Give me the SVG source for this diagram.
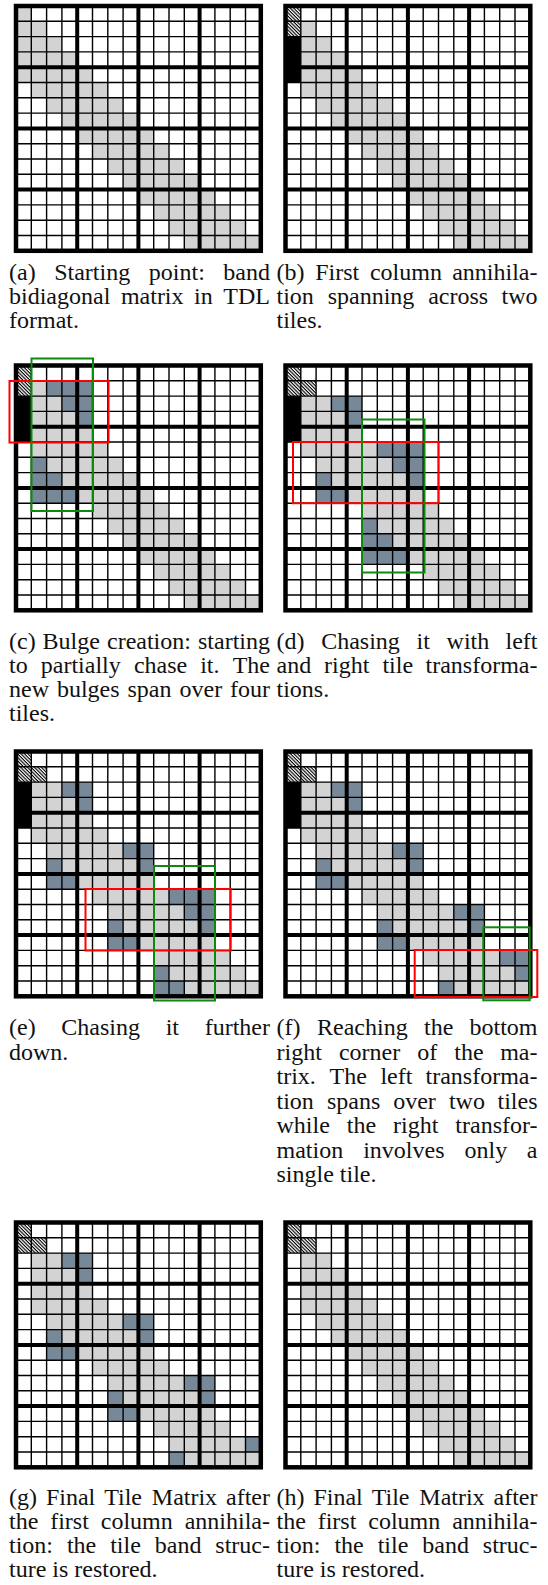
<svg xmlns="http://www.w3.org/2000/svg" width="548" height="1585" viewBox="0 0 548 1585">
<style>
.g{fill:#d3d3d3}.d{fill:#778899}.k{fill:#000}.w{fill:#fff}.h{fill:url(#hatch)}
.thin{stroke:#000;stroke-width:1.4;fill:none}
.thick{stroke:#000;stroke-width:4;fill:none}
.border{stroke:#000;stroke-width:4.5;fill:none}
.red{fill:none;stroke:#ff0000;stroke-width:2}
.grn{fill:none;stroke:#0b8a0b;stroke-width:2}
.cap{font-family:"Liberation Serif","Times New Roman",serif;font-size:24px;fill:#111}
</style>
<defs>
<pattern id="hatch" patternUnits="userSpaceOnUse" width="0.16" height="0.16" patternTransform="rotate(45)"><rect width="0.16" height="0.16" fill="#fff"/><rect width="0.16" height="0.075" fill="#000"/></pattern>
<path id="band" d="M0 0H1V1H2V2H3V3H4V4H5V5H6V6H7V7H8V8H9V9H10V10H11V11H12V12H13V13H14V14H15V15H16V16H11V15H10V14H9V13H8V12H7V11H6V10H5V9H4V8H3V7H2V6H1V5H0Z"/>
<g id="grid">
<path class="thin" d="M15.3 0V244.8M30.6 0V244.8M45.9 0V244.8M76.5 0V244.8M91.8 0V244.8M107.1 0V244.8M137.7 0V244.8M153 0V244.8M168.3 0V244.8M198.9 0V244.8M214.2 0V244.8M229.5 0V244.8M0 15.3H244.8M0 30.6H244.8M0 45.9H244.8M0 76.5H244.8M0 91.8H244.8M0 107.1H244.8M0 137.7H244.8M0 153H244.8M0 168.3H244.8M0 198.9H244.8M0 214.2H244.8M0 229.5H244.8"/>
<path class="thick" d="M61.2 0V244.8M122.4 0V244.8M183.6 0V244.8M0 61.2H244.8M0 122.4H244.8M0 183.6H244.8"/>
<rect class="border" width="244.8" height="244.8"/>
</g>
</defs>
<rect width="548" height="1585" fill="#fff"/>

<g id="matrix-a" transform="translate(16 6)">
<g transform="scale(15.3)"><use href="#band" class="g"/></g>
<use href="#grid"/>
</g>

<g id="matrix-b" transform="translate(285.5 6)">
<g transform="scale(15.3)"><use href="#band" class="g"/><path class="h" d="M0 0h1v2h-1z"/><path class="k" d="M0 2h1v3h-1z"/></g>
<use href="#grid"/>
</g>

<g id="matrix-c" transform="translate(16 365.5)">
<g transform="scale(15.3)"><use href="#band" class="g"/><path class="h" d="M0 0h1v2h-1z"/><path class="k" d="M0 2h1v3h-1z"/>
<path class="d" d="M2 1h3v1h-3zM3 2h2v1h-2zM4 3h1v1h-1zM1 6h1v1h-1zM1 7h2v1h-2zM1 8h3v1h-3z"/></g>
<use href="#grid"/>
</g>

<g id="matrix-d" transform="translate(285.5 365.5)">
<g transform="scale(15.3)"><use href="#band" class="g"/><path class="h" d="M0 0h1v2h-1zM1 1h1v1h-1z"/><path class="k" d="M0 2h1v3h-1z"/>
<path class="d" d="M3 2h2v1h-2zM4 3h1v1h-1zM6 5h3v1h-3zM7 6h2v1h-2zM8 7h1v1h-1zM2 7h1v1h-1zM2 8h2v1h-2zM5 10h1v1h-1zM5 11h2v1h-2zM5 12h3v1h-3z"/></g>
<use href="#grid"/>
</g>

<g id="matrix-e" transform="translate(16 751.5)">
<g transform="scale(15.3)"><use href="#band" class="g"/><path class="h" d="M0 0h1v2h-1zM1 1h1v1h-1z"/><path class="k" d="M0 2h1v3h-1z"/>
<path class="d" d="M3 2h2v1h-2zM4 3h1v1h-1zM7 6h2v1h-2zM8 7h1v1h-1zM2 7h1v1h-1zM2 8h2v1h-2zM10 9h3v1h-3zM11 10h2v1h-2zM12 11h1v1h-1zM6 11h1v1h-1zM6 12h2v1h-2zM9 14h1v1h-1zM9 15h2v1h-2z"/></g>
<use href="#grid"/>
</g>

<g id="matrix-f" transform="translate(285.5 751.5)">
<g transform="scale(15.3)"><use href="#band" class="g"/><path class="h" d="M0 0h1v2h-1zM1 1h1v1h-1z"/><path class="k" d="M0 2h1v3h-1z"/>
<path class="d" d="M3 2h2v1h-2zM4 3h1v1h-1zM7 6h2v1h-2zM8 7h1v1h-1zM2 7h1v1h-1zM2 8h2v1h-2zM11 10h2v1h-2zM12 11h1v1h-1zM6 11h1v1h-1zM6 12h2v1h-2zM14 13h2v1h-2zM15 14h1v1h-1zM10 15h1v1h-1z"/></g>
<use href="#grid"/>
</g>

<g id="matrix-g" transform="translate(16 1222.5)">
<g transform="scale(15.3)"><use href="#band" class="g"/><path class="h" d="M0 0h1v2h-1zM1 1h1v1h-1z"/><path class="w" d="M0 2h1v3h-1z"/>
<path class="d" d="M3 2h2v1h-2zM4 3h1v1h-1zM7 6h2v1h-2zM8 7h1v1h-1zM2 7h1v1h-1zM2 8h2v1h-2zM11 10h2v1h-2zM12 11h1v1h-1zM6 11h1v1h-1zM6 12h2v1h-2zM15 14h1v1h-1zM10 15h1v1h-1z"/></g>
<use href="#grid"/>
</g>

<g id="matrix-h" transform="translate(285.5 1222.5)">
<g transform="scale(15.3)"><use href="#band" class="g"/><path class="h" d="M0 0h1v2h-1zM1 1h1v1h-1z"/><path class="w" d="M0 2h1v3h-1z"/></g>
<use href="#grid"/>
</g>

<g id="highlights">
<rect class="red" x="9.5" y="381" width="99" height="61.5"/>
<rect class="grn" x="31.5" y="358.5" width="61.5" height="152.5"/>
<rect class="red" x="293" y="442" width="145.5" height="61.2"/>
<rect class="grn" x="362" y="419.5" width="62.5" height="153"/>
<rect class="red" x="85.5" y="889" width="145.2" height="61.5"/>
<rect class="grn" x="154" y="866" width="61" height="134.5"/>
<rect class="red" x="414.7" y="950" width="122.6" height="47"/>
<rect class="grn" x="483.3" y="927.3" width="46.4" height="73"/>
</g>

<g id="caption-a" class="cap">
<text y="280"><tspan x="9">(a)</tspan><tspan x="54.2">Starting</tspan><tspan x="148.8">point:</tspan><tspan x="270" text-anchor="end">band</tspan></text>
<text y="304"><tspan x="9">bidiagonal</tspan><tspan x="120.9">matrix</tspan><tspan x="194.1">in</tspan><tspan x="270" text-anchor="end">TDL</tspan></text>
<text y="328" x="9">format.</text>
</g>

<g id="caption-b" class="cap">
<text y="280"><tspan x="276.5">(b)</tspan><tspan x="315.2">First</tspan><tspan x="369.9">column</tspan><tspan x="537.5" text-anchor="end">annihila-</tspan></text>
<text y="304"><tspan x="276.5">tion</tspan><tspan x="327.7">spanning</tspan><tspan x="428.2">across</tspan><tspan x="537.5" text-anchor="end">two</tspan></text>
<text y="328" x="276.5">tiles.</text>
</g>

<g id="caption-c" class="cap">
<text y="649"><tspan x="9">(c)</tspan><tspan x="42.6">Bulge</tspan><tspan x="107">creation:</tspan><tspan x="270" text-anchor="end">starting</tspan></text>
<text y="673"><tspan x="9">to</tspan><tspan x="40.8">partially</tspan><tspan x="133.9">chase</tspan><tspan x="200.2">it.</tspan><tspan x="270" text-anchor="end">The</tspan></text>
<text y="697"><tspan x="9">new</tspan><tspan x="56.9">bulges</tspan><tspan x="127.5">span</tspan><tspan x="179.5">over</tspan><tspan x="270" text-anchor="end">four</tspan></text>
<text y="721" x="9">tiles.</text>
</g>

<g id="caption-d" class="cap">
<text y="649"><tspan x="276.5">(d)</tspan><tspan x="321.2">Chasing</tspan><tspan x="416.6">it</tspan><tspan x="446.6">with</tspan><tspan x="537.5" text-anchor="end">left</tspan></text>
<text y="673"><tspan x="276.5">and</tspan><tspan x="324.1">right</tspan><tspan x="382.4">tile</tspan><tspan x="537.5" text-anchor="end">transforma-</tspan></text>
<text y="697" x="276.5">tions.</text>
</g>

<g id="caption-e" class="cap">
<text y="1035"><tspan x="9">(e)</tspan><tspan x="61.3">Chasing</tspan><tspan x="165.7">it</tspan><tspan x="270" text-anchor="end">further</tspan></text>
<text y="1059.5" x="9">down.</text>
</g>

<g id="caption-f" class="cap">
<text y="1035"><tspan x="276.5">(f)</tspan><tspan x="317">Reaching</tspan><tspan x="424.1">the</tspan><tspan x="537.5" text-anchor="end">bottom</tspan></text>
<text y="1059.5"><tspan x="276.5">right</tspan><tspan x="338.9">corner</tspan><tspan x="417.3">of</tspan><tspan x="454.3">the</tspan><tspan x="537.5" text-anchor="end">ma-</tspan></text>
<text y="1084"><tspan x="276.5">trix.</tspan><tspan x="329.5">The</tspan><tspan x="380.4">left</tspan><tspan x="537.5" text-anchor="end">transforma-</tspan></text>
<text y="1108.5"><tspan x="276.5">tion</tspan><tspan x="326.9">spans</tspan><tspan x="393.2">over</tspan><tspan x="448.9">two</tspan><tspan x="537.5" text-anchor="end">tiles</tspan></text>
<text y="1133"><tspan x="276.5">while</tspan><tspan x="346.8">the</tspan><tspan x="393.1">right</tspan><tspan x="537.5" text-anchor="end">transfor-</tspan></text>
<text y="1157.5"><tspan x="276.5">mation</tspan><tspan x="363.2">involves</tspan><tspan x="464.6">only</tspan><tspan x="537.5" text-anchor="end">a</tspan></text>
<text y="1182" x="276.5">single tile.</text>
</g>

<g id="caption-g" class="cap">
<text y="1505"><tspan x="9">(g)</tspan><tspan x="45.9">Final</tspan><tspan x="104.2">Tile</tspan><tspan x="151.8">Matrix</tspan><tspan x="270" text-anchor="end">after</tspan></text>
<text y="1529"><tspan x="9">the</tspan><tspan x="50.2">first</tspan><tspan x="100.8">column</tspan><tspan x="270" text-anchor="end">annihila-</tspan></text>
<text y="1553"><tspan x="9">tion:</tspan><tspan x="66.9">the</tspan><tspan x="110.2">tile</tspan><tspan x="154.8">band</tspan><tspan x="270" text-anchor="end">struc-</tspan></text>
<text y="1577" x="9">ture is restored.</text>
</g>

<g id="caption-h" class="cap">
<text y="1505"><tspan x="276.5">(h)</tspan><tspan x="313.4">Final</tspan><tspan x="371.7">Tile</tspan><tspan x="419.3">Matrix</tspan><tspan x="537.5" text-anchor="end">after</tspan></text>
<text y="1529"><tspan x="276.5">the</tspan><tspan x="317.7">first</tspan><tspan x="368.3">column</tspan><tspan x="537.5" text-anchor="end">annihila-</tspan></text>
<text y="1553"><tspan x="276.5">tion:</tspan><tspan x="334.4">the</tspan><tspan x="377.7">tile</tspan><tspan x="422.3">band</tspan><tspan x="537.5" text-anchor="end">struc-</tspan></text>
<text y="1577" x="276.5">ture is restored.</text>
</g>
</svg>
